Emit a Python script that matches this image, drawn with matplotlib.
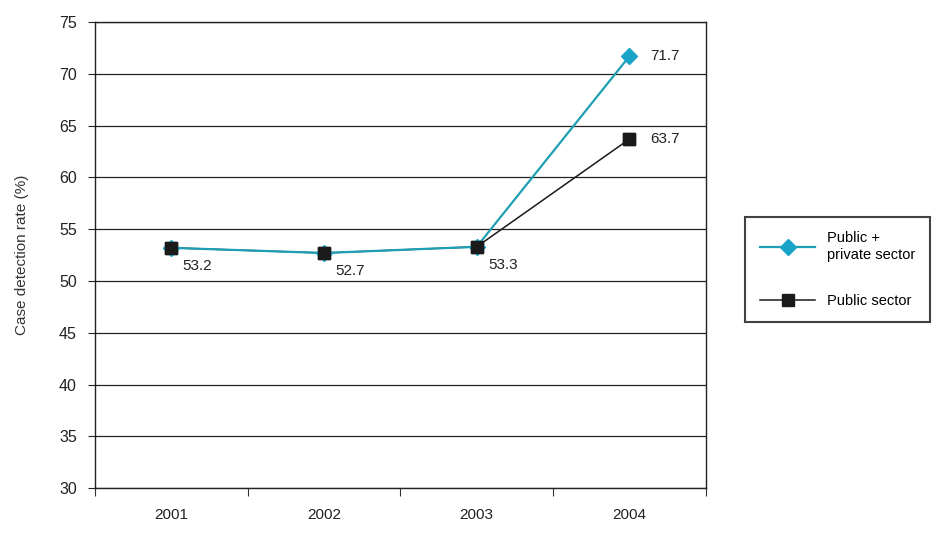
import matplotlib.pyplot as plt
import numpy as np

plt.rcParams['font.family'] = ['Liberation Sans', 'DejaVu Sans']

years = ['2001', '2002', '2003', '2004']
public_private = [53.2, 52.7, 53.3, 71.7]
public_only = [53.2, 52.7, 53.3, 63.7]
point_labels = ['53.2', '52.7', '53.3', '71.7', '63.7']

fig = plt.figure(figsize=(9.41, 5.37), dpi=100)
ax = fig.add_axes([0.101, 0.091, 0.649, 0.868])

x = np.arange(len(years))
teal = '#1f9fb3'

ax.plot(x, public_only, color='#1a1a1a', lw=1.1, marker='s', ms=8,
        mfc='#1a1a1a', mec='#1a1a1a', label='Public sector', zorder=3)
ax.plot(x, public_private, color=teal, lw=1.6, marker='D', ms=8,
        mfc='#1aa3c9', mec='#1aa3c9', label='Public +\nprivate sector', zorder=4)
# black squares sit on top of the teal line
ax.plot(x, public_only, ls='none', marker='s', ms=8, mfc='#1a1a1a',
        mec='#1a1a1a', zorder=5)

for i in range(3):
    ax.annotate(point_labels[i], (x[i], public_only[i]), xytext=(8, -13),
                textcoords='offset points', fontsize=11, color='#222222',
                va='center', ha='left')
ax.annotate(point_labels[3], (x[3], public_private[3]), xytext=(15, 0),
            textcoords='offset points', fontsize=11, color='#222222', va='center')
ax.annotate(point_labels[4], (x[3], public_only[3]), xytext=(15, 0),
            textcoords='offset points', fontsize=11, color='#222222', va='center')

ax.set_xlim(-0.5, 3.5)
ax.set_ylim(30, 75)
ax.set_yticks(np.arange(30, 76, 5))
ax.set_xticks(np.arange(-0.5, 4, 1))
ax.set_xticklabels([])
ax.set_xticks(x, minor=True)
ax.set_xticklabels(years, minor=True)
ax.tick_params(axis='x', which='minor', length=0, pad=14, labelsize=11, colors='#222222')
ax.tick_params(axis='x', which='major', length=6, direction='out', color='#333333')
ax.tick_params(axis='y', length=5, direction='out', labelsize=11.5, colors='#222222', pad=8)
ax.yaxis.grid(True, color='#222222', lw=0.9)
ax.set_axisbelow(True)
for s in ax.spines.values():
    s.set_color('#222222')
    s.set_linewidth(1.0)
ax.set_ylabel('Case detection rate (%)', fontsize=11, color='#333333', labelpad=22)

handles, labels = ax.get_legend_handles_labels()
leg = fig.legend(handles[::-1], labels[::-1], loc='center',
                 bbox_to_anchor=(0.890, 0.498), fontsize=10.5,
                 frameon=True, fancybox=False, edgecolor='#111111',
                 labelspacing=2.2, handlelength=3.8, borderpad=1.0,
                 handletextpad=0.8)
leg.get_frame().set_linewidth(1.5)

fig.savefig('out.png', dpi=100)
